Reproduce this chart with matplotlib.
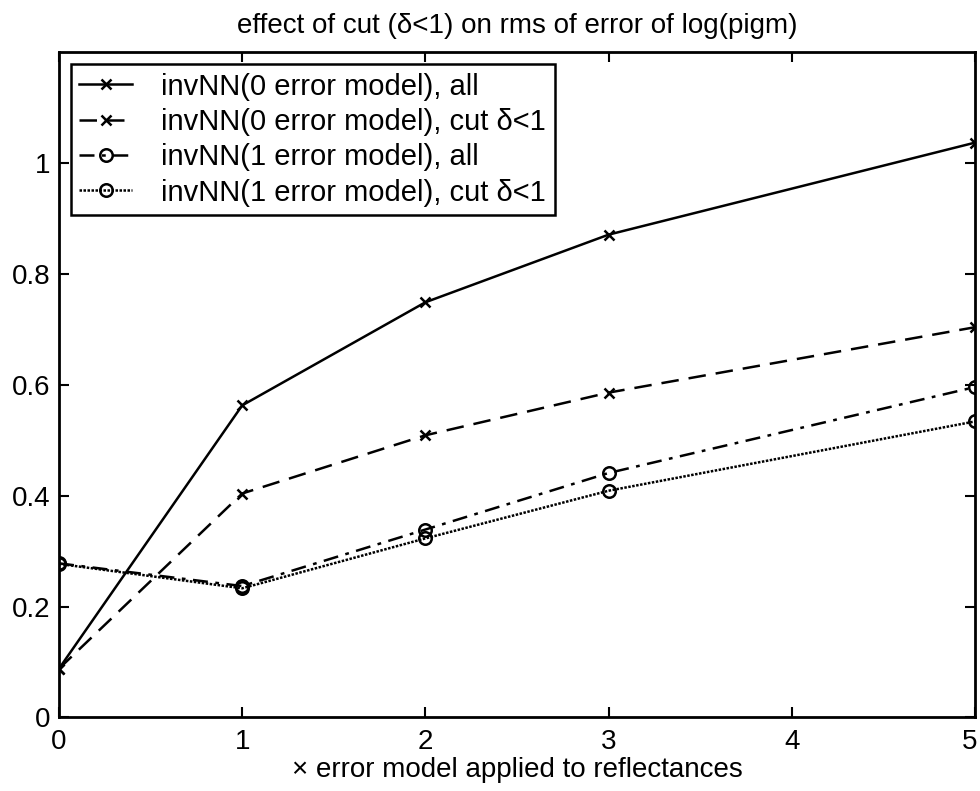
import matplotlib
matplotlib.use("Agg")
import matplotlib.pyplot as plt
import matplotlib.transforms as mtransforms

plt.rcParams['font.family'] = ['Liberation Sans', 'DejaVu Sans']

# data
x = [0, 1, 2, 3, 5]
nn0_all = [0.088, 0.563, 0.749, 0.871, 1.037]
nn0_cut = [0.088, 0.404, 0.509, 0.586, 0.704]
nn1_all = [0.278, 0.237, 0.339, 0.441, 0.596]
nn1_cut = [0.277, 0.233, 0.323, 0.409, 0.534]

labels = ['invNN(0 error model), all',
          'invNN(0 error model), cut \u03b4<1',
          'invNN(1 error model), all',
          'invNN(1 error model), cut \u03b4<1']

fig = plt.figure(figsize=(9.8, 7.91), dpi=100)
ax = fig.add_axes([0.0602, 0.0930, 0.9347, 0.8409])

ax.plot(x, nn0_all, color='k', ls='-', lw=1.8, marker='x', ms=7, mew=1.8, label=labels[0])
ax.plot(x, nn0_cut, color='k', ls=(0, (7, 4)), lw=1.8, marker='x', ms=7, mew=1.8, label=labels[1])
ax.plot(x, nn1_all, color='k', ls=(0, (6, 3, 1.5, 3)), lw=1.8, marker='o', ms=9,
        mfc='none', mew=1.8, label=labels[2])
ax.plot(x, nn1_cut, color='k', ls=(0, (1, 0.6)), lw=1.8, marker='o', ms=9,
        mfc='none', mew=1.8, label=labels[3])

ax.set_xlim(0, 5)
ax.set_ylim(0, 1.2)
ax.set_xticks([0, 1, 2, 3, 4, 5])
ax.set_yticks([0, 0.2, 0.4, 0.6, 0.8, 1.0])
ax.set_yticklabels(['0', '0.2', '0.4', '0.6', '0.8', '1'])
ax.tick_params(direction='in', length=7, width=1.5, top=True, right=True,
               labelsize=20, colors='k')
ax.tick_params(axis='x', pad=8)
ax.tick_params(axis='y', pad=6)
for s in ax.spines.values():
    s.set_linewidth(2)

# keep the last x tick label inside the figure
last = ax.get_xticklabels()[-1]
last.set_transform(last.get_transform() +
                   mtransforms.ScaledTranslation(-5 / 100, 0, fig.dpi_scale_trans))

ax.set_title('effect of cut (\u03b4<1) on rms of error of log(pigm)', fontsize=20, pad=14)
ax.set_xlabel('\u00d7 error model applied to reflectances', fontsize=20, labelpad=2)

leg = ax.legend(loc='upper left', fontsize=21, frameon=True, fancybox=False,
                edgecolor='k', framealpha=1, handlelength=1.8, handletextpad=1.0,
                borderpad=0.3, labelspacing=0.25, borderaxespad=0.4)
leg.get_frame().set_linewidth(1.8)

fig.savefig('out.png', dpi=100)
